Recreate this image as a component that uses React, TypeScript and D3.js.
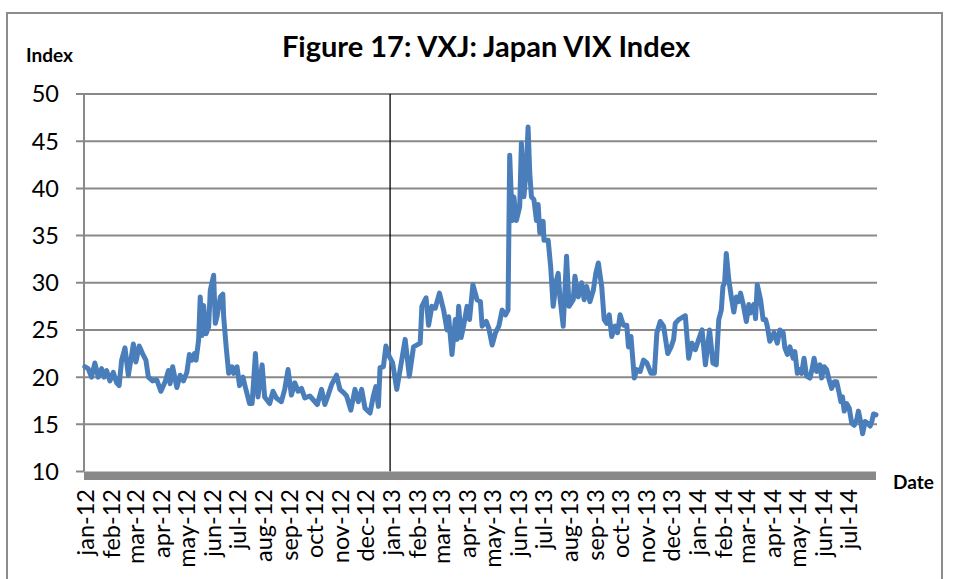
import * as d3 from 'd3'

// VXJ daily closes (roughly every 3-4 days)
const dates = [
  '2012-01-02', '2012-01-06', '2012-01-10', '2012-01-14', '2012-01-18', '2012-01-22', '2012-01-25', '2012-01-28',
  '2012-02-01', '2012-02-05', '2012-02-09', '2012-02-12', '2012-02-15', '2012-02-19', '2012-02-23', '2012-02-26',
  '2012-02-29', '2012-03-03', '2012-03-07', '2012-03-11', '2012-03-15', '2012-03-18', '2012-03-23', '2012-03-28',
  '2012-04-02', '2012-04-07', '2012-04-11', '2012-04-13', '2012-04-16', '2012-04-21', '2012-04-25', '2012-04-29',
  '2012-05-03', '2012-05-06', '2012-05-09', '2012-05-12', '2012-05-14', '2012-05-17', '2012-05-19', '2012-05-21',
  '2012-05-23', '2012-05-26', '2012-05-29', '2012-05-31', '2012-06-04', '2012-06-06', '2012-06-08', '2012-06-12',
  '2012-06-15', '2012-06-16', '2012-06-19', '2012-06-22', '2012-06-26', '2012-06-28', '2012-07-02', '2012-07-05',
  '2012-07-09', '2012-07-12', '2012-07-17', '2012-07-20', '2012-07-24', '2012-07-27', '2012-08-01', '2012-08-04',
  '2012-08-10', '2012-08-14', '2012-08-18', '2012-08-24', '2012-08-28', '2012-09-01', '2012-09-05', '2012-09-09',
  '2012-09-13', '2012-09-17', '2012-09-21', '2012-09-27', '2012-10-01', '2012-10-06', '2012-10-11', '2012-10-15',
  '2012-10-19', '2012-10-23', '2012-10-29', '2012-11-02', '2012-11-07', '2012-11-10', '2012-11-15', '2012-11-20',
  '2012-11-24', '2012-11-28', '2012-12-02', '2012-12-08', '2012-12-12', '2012-12-15', '2012-12-18', '2012-12-20',
  '2012-12-24', '2012-12-27', '2012-12-31',
  '2013-01-04', '2013-01-09', '2013-01-13', '2013-01-19', '2013-01-24', '2013-01-29', '2013-02-06', '2013-02-08',
  '2013-02-13', '2013-02-16', '2013-02-20', '2013-02-24', '2013-03-01', '2013-03-06', '2013-03-10', '2013-03-12',
  '2013-03-16', '2013-03-20', '2013-03-22', '2013-03-24', '2013-03-27', '2013-03-30', '2013-04-03', '2013-04-06',
  '2013-04-10', '2013-04-15', '2013-04-19', '2013-04-21', '2013-04-26', '2013-04-29', '2013-05-03', '2013-05-07',
  '2013-05-11', '2013-05-15', '2013-05-19', '2013-05-22', '2013-05-24', '2013-05-27', '2013-05-29', '2013-06-01',
  '2013-06-05', '2013-06-07', '2013-06-10', '2013-06-13', '2013-06-15', '2013-06-17', '2013-06-19', '2013-06-22',
  '2013-06-25', '2013-06-27', '2013-06-29', '2013-07-03', '2013-07-04', '2013-07-09', '2013-07-12', '2013-07-15',
  '2013-07-19', '2013-07-21', '2013-07-23', '2013-07-27', '2013-07-31', '2013-08-03', '2013-08-08', '2013-08-10',
  '2013-08-14', '2013-08-18', '2013-08-21', '2013-08-24', '2013-08-28', '2013-09-01', '2013-09-04', '2013-09-07',
  '2013-09-11', '2013-09-14', '2013-09-17', '2013-09-20', '2013-09-23', '2013-09-27', '2013-09-30', '2013-10-03',
  '2013-10-07', '2013-10-11', '2013-10-13', '2013-10-16', '2013-10-20', '2013-10-23', '2013-10-27', '2013-10-31',
  '2013-11-04', '2013-11-09', '2013-11-13', '2013-11-16', '2013-11-20', '2013-11-24', '2013-11-29', '2013-12-03',
  '2013-12-06', '2013-12-08', '2013-12-12', '2013-12-16', '2013-12-20', '2013-12-24', '2013-12-28',
  '2014-01-01', '2014-01-05', '2014-01-09', '2014-01-13', '2014-01-18', '2014-01-22', '2014-01-26', '2014-01-29',
  '2014-02-01', '2014-02-03', '2014-02-05', '2014-02-07', '2014-02-10', '2014-02-13', '2014-02-16', '2014-02-19',
  '2014-02-22', '2014-02-24', '2014-02-27', '2014-03-03', '2014-03-06', '2014-03-08', '2014-03-12', '2014-03-14',
  '2014-03-16', '2014-03-20', '2014-03-23', '2014-03-26', '2014-03-28', '2014-03-31', '2014-04-03', '2014-04-05',
  '2014-04-09', '2014-04-12', '2014-04-16', '2014-04-18', '2014-04-21', '2014-04-24', '2014-04-28', '2014-04-30',
  '2014-05-03', '2014-05-06', '2014-05-08', '2014-05-11', '2014-05-14', '2014-05-18', '2014-05-20', '2014-05-23',
  '2014-05-26', '2014-05-30', '2014-06-01', '2014-06-04', '2014-06-07', '2014-06-10', '2014-06-13', '2014-06-16',
  '2014-06-19', '2014-06-22', '2014-06-24', '2014-06-26', '2014-06-28', '2014-07-01', '2014-07-04', '2014-07-07',
  '2014-07-10', '2014-07-13', '2014-07-15', '2014-07-18', '2014-07-20', '2014-07-23', '2014-07-26', '2014-07-29',
  '2014-07-31', '2014-08-02', '2014-08-05',
]

const vxj = [
  21.1, 20.9, 20.0, 21.5, 20.0, 20.9, 20.0, 20.7,
  19.6, 20.5, 19.4, 19.1, 21.8, 23.1, 20.2, 21.8,
  23.5, 21.6, 23.3, 22.5, 21.8, 20.0, 19.6, 19.7,
  18.5, 19.5, 20.7, 19.3, 21.1, 18.9, 20.2, 19.6,
  20.5, 22.4, 21.8, 22.5, 21.8, 23.9, 28.5, 24.4,
  27.6, 24.6, 25.3, 29.2, 30.8, 25.7, 26.4, 28.5,
  28.8, 26.4, 23.2, 20.4, 21.1, 20.4, 21.1, 19.1,
  20.0, 18.9, 17.2, 17.2, 22.5, 17.9, 21.3, 17.9,
  17.2, 18.5, 17.8, 17.4, 18.7, 20.8, 18.1, 19.4,
  18.5, 18.8, 17.8, 18.0, 17.6, 17.1, 18.7, 17.1,
  18.1, 19.2, 20.2, 18.7, 18.3, 18.0, 16.5, 18.7,
  17.4, 18.7, 16.7, 16.2, 18.0, 19.0, 16.9, 21.0,
  21.1, 23.3, 22.2,
  21.5, 18.7, 20.8, 24.0, 20.1, 23.2, 23.6, 27.5,
  28.4, 25.5, 27.5, 27.3, 28.9, 27.1, 25.0, 26.4,
  22.4, 26.1, 24.0, 27.5, 24.2, 25.5, 27.5, 26.1,
  29.8, 28.2, 28.0, 25.4, 25.9, 25.2, 23.4, 24.7,
  25.4, 27.1, 26.6, 27.1, 43.5, 36.6, 39.1, 36.6,
  38.1, 44.8, 39.1, 42.3, 46.5, 41.6, 39.1, 38.8,
  36.6, 38.3, 35.3, 36.5, 34.5, 34.5, 31.7, 27.5,
  30.3, 31.0, 28.5, 25.4, 32.8, 27.5, 28.2, 30.7,
  28.5, 30.0, 28.2, 29.6, 28.0, 29.2, 31.0, 32.1,
  29.6, 26.1, 25.7, 26.6, 24.3, 25.4, 24.7, 26.6,
  25.5, 25.5, 23.2, 24.3, 19.9, 20.8, 20.6, 21.8,
  21.5, 20.4, 20.4, 24.7, 25.9, 25.4, 22.5, 23.2,
  24.0, 25.7, 26.1, 26.3, 26.5, 22.0, 23.6,
  22.9, 24.0, 25.0, 21.3, 25.0, 21.5, 21.3, 26.1,
  27.1, 29.6, 30.0, 33.1, 30.3, 28.5, 26.9, 28.5,
  28.0, 28.9, 27.8, 25.9, 27.7, 26.8, 27.7, 26.2,
  29.8, 28.2, 26.1, 26.1, 25.4, 23.8, 24.3, 24.7,
  23.6, 25.0, 24.7, 23.1, 22.4, 23.2, 22.0, 22.7,
  20.4, 20.8, 20.4, 22.0, 20.1, 19.9, 20.6, 22.0,
  20.6, 21.3, 19.9, 21.1, 20.8, 19.7, 18.8, 19.5,
  19.5, 18.3, 17.4, 17.9, 16.4, 17.2, 16.7, 15.1,
  14.9, 15.5, 16.4, 15.1, 14.0, 15.3, 15.1, 14.8,
  15.3, 16.1, 16.0,
]

const monthLabels = [
  'jan-12', 'feb-12', 'mar-12', 'apr-12', 'may-12', 'jun-12', 'jul-12', 'aug-12', 'sep-12', 'oct-12', 'nov-12', 'dec-12',
  'jan-13', 'feb-13', 'mar-13', 'apr-13', 'may-13', 'jun-13', 'jul-13', 'aug-13', 'sep-13', 'oct-13', 'nov-13', 'dec-13',
  'jan-14', 'feb-14', 'mar-14', 'apr-14', 'may-14', 'jun-14', 'jul-14',
]
const yTicks = [10, 15, 20, 25, 30, 35, 40, 45, 50]
const dateRange = ['2012-01-01', '2014-08-05']
const markerDate = '2013-01-01'

const width = 954
const height = 579
const plot = { left: 84, right: 876, top: 94, bottom: 471.5 }
const font = 'Lato, Carlito, Calibri, sans-serif'

export default function App() {
  const parse = d3.timeParse('%Y-%m-%d')
  const x = d3.scaleTime()
    .domain(dateRange.map(d => parse(d)))
    .range([plot.left, plot.right])
  const y = d3.scaleLinear().domain([10, 50]).range([plot.bottom, plot.top])

  const points = dates.map((d, i) => ({ date: parse(d), value: vxj[i] }))
  const line = d3.line().x(d => x(d.date)).y(d => y(d.value))

  const months = d3.timeMonth.range(parse(dateRange[0]), parse(dateRange[1]))

  return (
    <svg width={width} height={height} style={{ position: 'absolute', left: 0, top: 0, background: '#fff' }}>
      {/* chart frame */}
      <rect x={7} y={13} width={935} height={580} fill='none' stroke='#8c8c8c' strokeWidth={2} />

      <text x={486} y={57} textAnchor='middle' fontFamily={font} fontWeight='bold' fontSize={29}>
        Figure 17: VXJ: Japan VIX Index
      </text>
      <text x={26} y={62} fontFamily={font} fontWeight='bold' fontSize={19}>Index</text>
      <text x={893} y={489} fontFamily={font} fontWeight='bold' fontSize={19}>Date</text>

      {/* gridlines + y labels */}
      {yTicks.map(t => (
        <g key={t}>
          {t > 10 && <line x1={plot.left - 8} x2={plot.right + 1} y1={y(t)} y2={y(t)} stroke='#898989' strokeWidth={2} />}
          <text x={59} y={y(t)} dy='0.36em' textAnchor='end' fontFamily={font} fontSize={23.5}>{t}</text>
        </g>
      ))}
      <line x1={plot.left - 8} x2={plot.left} y1={plot.bottom} y2={plot.bottom} stroke='#898989' strokeWidth={2} />
      <line x1={plot.left} x2={plot.left} y1={plot.top} y2={plot.bottom} stroke='#898989' strokeWidth={2} />

      {/* start of 2013 */}
      <line x1={x(parse(markerDate))} x2={x(parse(markerDate))} y1={plot.top} y2={plot.bottom}
        stroke='#000' strokeWidth={1.3} />

      <path d={line(points)} fill='none' stroke='#4a7ebb' strokeWidth={5} strokeLinejoin='round' strokeLinecap='round' />

      {/* thick date axis */}
      <rect x={plot.left} y={plot.bottom} width={plot.right - plot.left} height={8.5} fill='#898989' />

      {months.map((m, i) => (
        <text key={i} transform={`translate(${x(m) + 2},489) rotate(-90)`} textAnchor='end' dy='0.35em'
          fontFamily={font} fontSize={23.5}>{monthLabels[i]}</text>
      ))}
    </svg>
  )
}
